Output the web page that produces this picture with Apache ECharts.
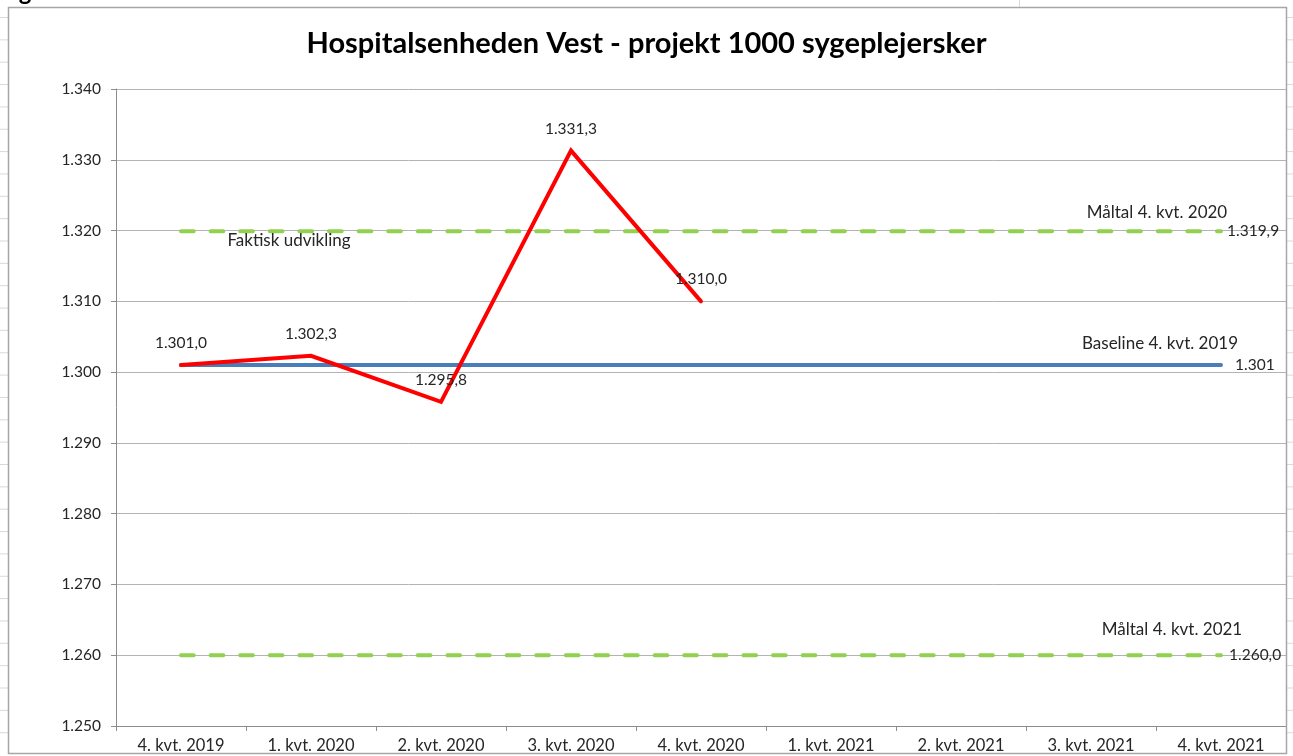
<!DOCTYPE html>
<html><head><meta charset="utf-8">
<script src="https://cdn.jsdelivr.net/npm/echarts@6/dist/echarts.min.js"></script>
<style>html,body{margin:0;padding:0;background:#fff}#c{width:1293px;height:756px}</style>
</head><body><div id="c"></div>
<script>
const categories = ['4. kvt. 2019','1. kvt. 2020','2. kvt. 2020','3. kvt. 2020','4. kvt. 2020','1. kvt. 2021','2. kvt. 2021','3. kvt. 2021','4. kvt. 2021'];
const faktisk = [1301.0, 1302.3, 1295.8, 1331.3, 1310.0, null, null, null, null];
const baseline = [1301, 1301, 1301, 1301, 1301, 1301, 1301, 1301, 1301];
const maal2020 = [1319.9, 1319.9, 1319.9, 1319.9, 1319.9, 1319.9, 1319.9, 1319.9, 1319.9];
const maal2021 = [1260.0, 1260.0, 1260.0, 1260.0, 1260.0, 1260.0, 1260.0, 1260.0, 1260.0];
const yMin = 1250, yMax = 1340, yStep = 10;
const titleText = 'Hospitalsenheden Vest - projekt 1000 sygeplejersker';

const FONT = 'Lato, "Open Sans", sans-serif';
const TXT = '#262626';
function da(v, dec) {
  const s = Number(v).toFixed(dec);
  const parts = s.split('.');
  const ii = parts[0].replace(/\B(?=(\d{3})+(?!\d))/g, '.');
  return parts[1] ? ii + ',' + parts[1] : ii;
}
const last = categories[categories.length - 1];
function nameMark(cat, val, text, off) {
  return {
    symbol: 'circle', symbolSize: 1,
    itemStyle: { color: 'rgba(0,0,0,0)' },
    label: { show: true, color: TXT, fontSize: 17, fontFamily: FONT },
    data: [{ coord: [cat, val], label: { formatter: text, offset: off } }]
  };
}

// decorative excel sheet cell borders + chart frame
const gfx = [];
for (let k = 0; k < 34; k++) {
  const y = 17.5 + k * 22.35;
  gfx.push({ type: 'line', shape: { x1: 0, y1: y, x2: 8, y2: y }, style: { stroke: '#d9d9d9', lineWidth: 1 }, silent: true });
  gfx.push({ type: 'line', shape: { x1: 1287, y1: y, x2: 1293, y2: y }, style: { stroke: '#d9d9d9', lineWidth: 1 }, silent: true });
}
gfx.push({ type: 'line', shape: { x1: 1019.5, y1: 0, x2: 1019.5, y2: 7 }, style: { stroke: '#d9d9d9', lineWidth: 1 }, silent: true });
gfx.push({ type: 'text', x: -1, y: -20, style: { text: 'Figur', font: 'bold 24px ' + FONT, fill: '#000' }, silent: true });
gfx.push({ type: 'rect', z: 100, shape: { x: 0, y: 754, width: 1293, height: 4 }, style: { fill: '#fff' }, silent: true });
gfx.push({ type: 'rect', z: 101, shape: { x: 8.5, y: 7.5, width: 1278, height: 746 }, style: { fill: 'none', stroke: '#a6a6a6', lineWidth: 1.5 }, silent: true });

const chart = echarts.init(document.getElementById('c'), null, { renderer: 'canvas' });
chart.setOption({
  animation: false,
  backgroundColor: '#fff',
  title: {
    text: titleText, left: 'center', top: 24,
    textStyle: { fontFamily: FONT, fontSize: 29, fontWeight: 'bold', color: '#000' }
  },
  grid: { left: 116, right: 7, top: 89, bottom: 30, containLabel: false },
  xAxis: {
    type: 'category', data: categories, boundaryGap: true,
    axisLine: { lineStyle: { color: '#8c8c8c', width: 1 } },
    axisTick: { show: true, length: 5, lineStyle: { color: '#8c8c8c' } },
    axisLabel: { color: TXT, fontSize: 16.5, fontFamily: FONT, margin: 11 },
    splitLine: { show: false }
  },
  yAxis: {
    type: 'value', min: yMin, max: yMax, interval: yStep,
    axisLine: { show: true, lineStyle: { color: '#8c8c8c', width: 1 } },
    axisTick: { show: true, length: 5, lineStyle: { color: '#8c8c8c' } },
    axisLabel: { color: TXT, fontSize: 15.5, fontFamily: FONT, margin: 15, formatter: v => da(v, 0) },
    splitLine: { show: true, lineStyle: { color: '#b3b3b3', width: 1 } }
  },
  graphic: gfx,
  series: [
    {
      name: 'Måltal 4. kvt. 2020', type: 'line', data: maal2020, symbol: 'none',
      lineStyle: { color: '#92d050', width: 4, type: [12.7, 16.9], cap: 'round' },
      endLabel: { show: true, formatter: p => da(p.value, 1), distance: 6, color: TXT, fontSize: 15.5, fontFamily: FONT },
      markPoint: nameMark(last, 1319.9, 'Måltal 4. kvt. 2020', [-64, -19])
    },
    {
      name: 'Måltal 4. kvt. 2021', type: 'line', data: maal2021, symbol: 'none',
      lineStyle: { color: '#92d050', width: 4, type: [12.7, 16.9], cap: 'round' },
      endLabel: { show: true, formatter: p => da(p.value, 1), distance: 8, color: TXT, fontSize: 15.5, fontFamily: FONT },
      markPoint: nameMark(last, 1260.0, 'Måltal 4. kvt. 2021', [-49, -26])
    },
    {
      name: 'Baseline 4. kvt. 2019', type: 'line', data: baseline, symbol: 'none',
      lineStyle: { color: '#4a7ebb', width: 4, cap: 'round' },
      endLabel: { show: true, formatter: p => da(p.value, 0), distance: 14, color: TXT, fontSize: 15.5, fontFamily: FONT },
      markPoint: nameMark(last, 1301, 'Baseline 4. kvt. 2019', [-61, -22])
    },
    {
      name: 'Faktisk udvikling', type: 'line', data: faktisk, symbol: 'circle', symbolSize: 2,
      itemStyle: { color: '#ff0000' },
      lineStyle: { color: '#ff0000', width: 4, cap: 'round', join: 'miter' },
      label: { show: true, position: 'top', distance: 13, color: TXT, fontSize: 15.5, fontFamily: FONT, formatter: p => da(p.value, 1) },
      markPoint: nameMark(categories[0], 1319.9, 'Faktisk udvikling', [108, 9])
    }
  ]
});
</script>
</body></html>
